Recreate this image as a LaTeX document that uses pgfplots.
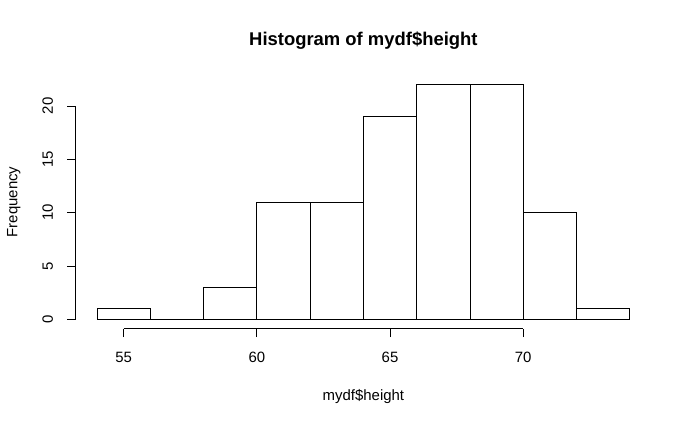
\documentclass[border=0pt]{standalone}
\usepackage{fontspec}
\setmainfont{Liberation Sans}
\usepackage{pgfplots}
\pgfplotsset{compat=1.18}
\begin{document}
\begin{tikzpicture}
\path[use as bounding box] (-75.8bp,-94.3bp) rectangle (614.2bp,328.7bp);
\begin{axis}[
  at={(0,0)}, anchor=south west,
  scale only axis, width=575.2bp, height=253.5bp,
  xmin=53.2, xmax=74.8, ymin=-0.88, ymax=22.88,
  clip=false,
  axis line style={draw=none},
  xtick={55,60,65,70}, ytick={0,5,10,15,20},
  xtick pos=bottom, ytick pos=left,
  tick align=outside,
  major tick length=8.3bp,
  tick style={black, line width=0.8bp},
  /pgf/number format/assume math mode=true,
  ticklabel style={font=\fontsize{15}{18}\selectfont},
  xticklabel style={anchor=base},
  xticklabel shift={25bp},
  yticklabel style={rotate=90, anchor=base},
  yticklabel shift={14.6bp},
  title={Histogram of mydf\$height},
  title style={font=\bfseries\fontsize{18.5}{22}\selectfont, at={(axis description cs:0.5,1.0947)}, anchor=base, inner sep=0pt},
  xlabel={mydf\$height},
  xlabel style={font=\fontsize{15}{18}\selectfont, at={(axis description cs:0.5,-0.28126)}, anchor=base, inner sep=0pt},
  ylabel={Frequency},
  ylabel style={font=\fontsize{15}{18}\selectfont, at={(axis description cs:-0.10153,0.5)}, anchor=base, inner sep=0pt},
]
\addplot[ybar interval, draw=black, fill=white, line width=0.8bp] coordinates {
(54,1) (56,0) (58,3) (60,11) (62,11) (64,19) (66,22) (68,22) (70,10) (72,1) (74,1)
};
\draw[black, line width=0.8bp] (axis cs:55,-0.88) -- (axis cs:70,-0.88);
\draw[black, line width=0.8bp] (axis cs:53.2,0) -- (axis cs:53.2,20);
\end{axis}
\end{tikzpicture}
\end{document}
